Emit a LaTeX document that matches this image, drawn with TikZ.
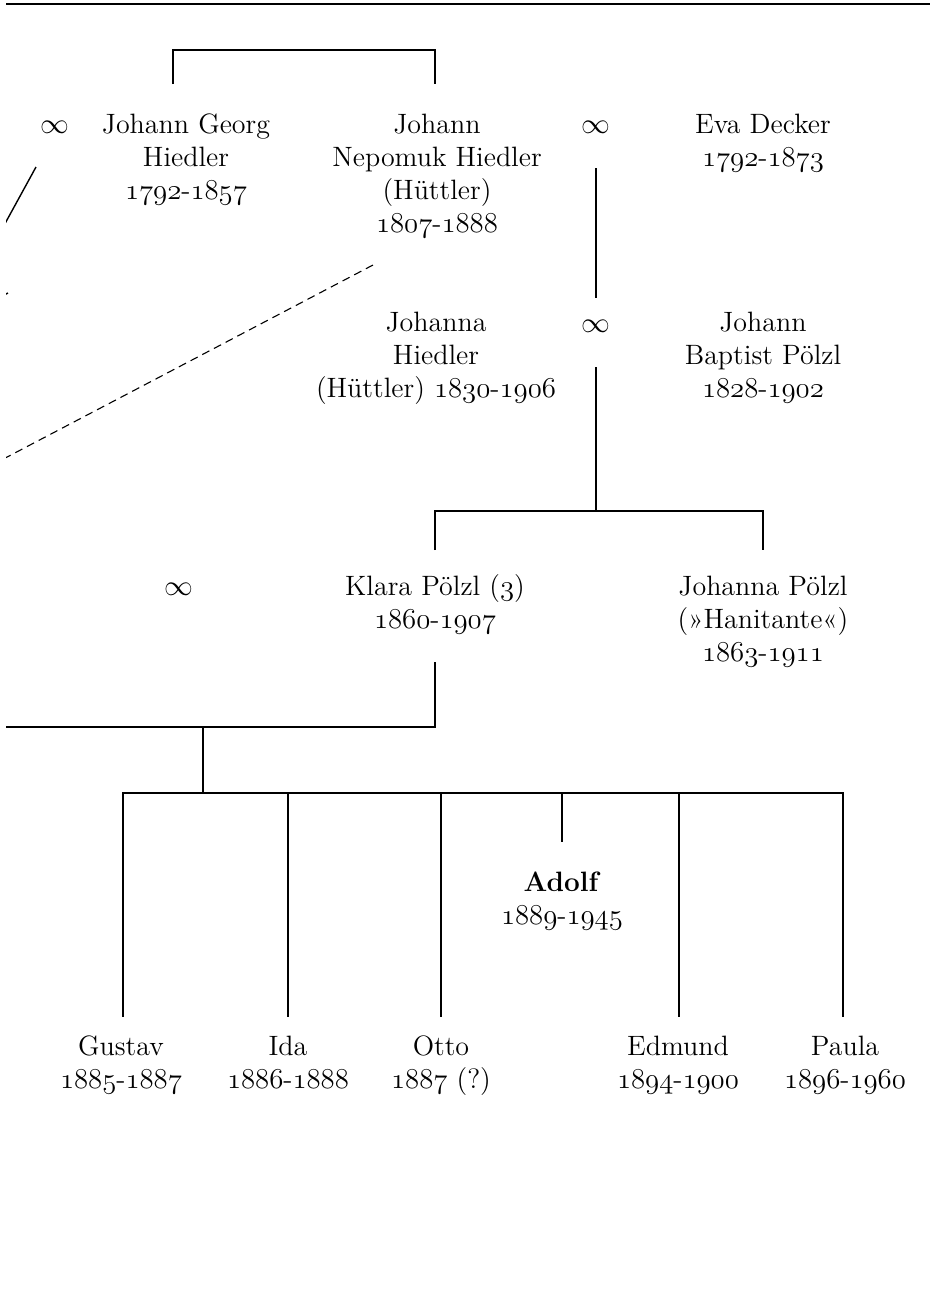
\documentclass[tikz,border=0pt]{standalone}
\usepackage{fontspec}
\newcommand\osf[1]{\ensuremath{\mathnormal{#1}}}
\newcommand\lifespan[2]{\osf{#1}-\osf{#2}}
\begin{document}
\begin{tikzpicture}[x=0.5pt,y=-0.5pt,
  person/.style={align=center,inner sep=0pt,font=\fontsize{14}{16.5}\selectfont},
  marr/.style={inner sep=0pt,font=\fontsize{14}{16.5}\selectfont},
  link/.style={line width=0.7pt,line cap=butt},
  thicklink/.style={line width=1.2pt},
  dashlink/.style={line width=0.55pt,dash pattern=on 4pt off 2.6pt}]
\useasboundingbox (0,0) rectangle (930,1292);
\begin{scope}
\clip (6,0) rectangle (930,1292);
% top rule
\coordinate (ruleL) at (6,4);
\coordinate (ruleR) at (932,4);
\draw[line width=1pt] (ruleL) -- (ruleR);

% generation 1
\node[marr] (m1) at (55,127) {$\infty$};
\node[person] (jgh) at (186,160) {\strut Johann Georg\\Hiedler\\\lifespan{1792}{1857}\strut};
\node[person] (jnh) at (437,176.5) {\strut Johann\\Nepomuk Hiedler\\(Hüttler)\\\lifespan{1807}{1888}\strut};
\node[marr] (m2) at (596,127) {$\infty$};
\node[person] (eva) at (763,143.5) {\strut Eva Decker\\\lifespan{1792}{1873}\strut};

% generation 2
\node[person] (joh) at (436,358) {\strut Johanna\\Hiedler\\(Hüttler) \lifespan{1830}{1906}\strut};
\node[marr] (m3) at (596,326) {$\infty$};
\node[person] (jbp) at (763,358) {\strut Johann\\Baptist Pölzl\\\lifespan{1828}{1902}\strut};

% generation 3
\node[marr] (m4) at (179,589) {$\infty$};
\node[person] (klara) at (435,605) {\strut Klara Pölzl (\osf{3})\\\lifespan{1860}{1907}\strut};
\node[person] (johp) at (763,622) {\strut Johanna Pölzl\\(»Hanitante«)\\\lifespan{1863}{1911}\strut};

% generation 4
\node[person] (adolf) at (562,901) {\strut\textbf{Adolf}\\\lifespan{1889}{1945}\strut};
\node[person] (gustav) at (121,1065) {\strut Gustav\\\lifespan{1885}{1887}\strut};
\node[person] (ida) at (288,1065) {\strut Ida\\\lifespan{1886}{1888}\strut};
\node[person] (otto) at (441,1065) {\strut Otto\\\osf{1887} (?)\strut};
\node[person] (edmund) at (678,1065) {\strut Edmund\\\lifespan{1894}{1900}\strut};
\node[person] (paula) at (845,1065) {\strut Paula\\\lifespan{1896}{1960}\strut};

% sibling bracket of the two brothers
\coordinate (b1) at (173,84); \coordinate (b1t) at (173,50);
\coordinate (b2) at (435,84); \coordinate (b2t) at (435,50);
\draw[link] (b1) -- (b1t) -- (b2t) -- (b2);

% lines leaving to the left
\coordinate (sA) at (36,167); \coordinate (sB) at (-4,240);
\draw[link] (sA) -- (sB);
\coordinate (tA) at (8,293); \coordinate (tB) at (0,297);
\draw[link] (tA) -- (tB);
\coordinate (dA) at (373,265); \coordinate (dB) at (-10,466);
\draw[dashlink] (dA) -- (dB);

% Nepomuk x Eva -> Johanna
\coordinate (v1a) at (596,168); \coordinate (v1b) at (596,298);
\draw[link] (v1a) -- (v1b);

% Johanna x Johann Baptist -> children
\coordinate (v2a) at (596,367); \coordinate (v2b) at (596,511);
\coordinate (kl1) at (435,511); \coordinate (kl2) at (435,550);
\coordinate (jp1) at (763,511); \coordinate (jp2) at (763,550);
\draw[link] (v2a) -- (v2b);
\draw[link] (kl2) -- (kl1) -- (jp1) -- (jp2);

% Klara x (Alois) -> children
\coordinate (k1) at (435,662); \coordinate (k2) at (435,727);
\coordinate (kL) at (0,727);
\draw[link] (k1) -- (k2) -- (kL);
\coordinate (c1) at (203,727); \coordinate (c2) at (203,793);
\draw[link] (c1) -- (c2);
\coordinate (barL) at (122,793); \coordinate (barR) at (844,793);
\draw[thicklink] (barL) -- (barR);
\foreach \xx/\nm in {123/gustav,288/ida,441/otto,679/edmund,843/paula}{
  \draw[link] (\xx,793) -- (\xx,1017);
}
\coordinate (ad1) at (562,793); \coordinate (ad2) at (562,842);
\draw[link] (ad1) -- (ad2);
\end{scope}
\end{tikzpicture}
\end{document}
